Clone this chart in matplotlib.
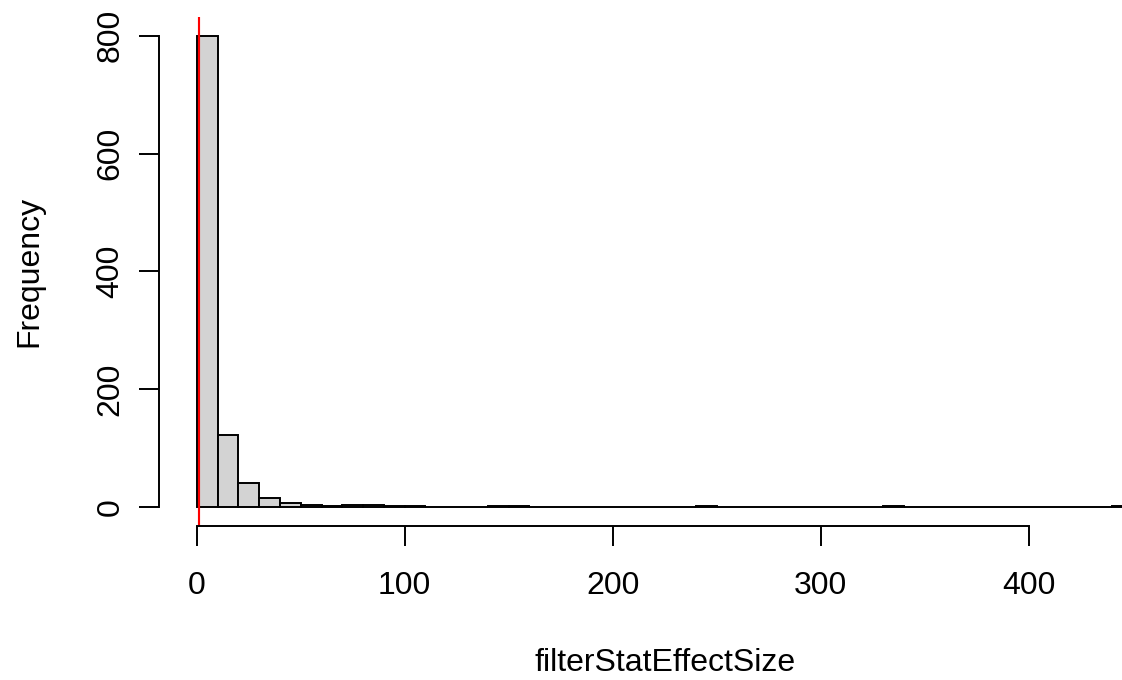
import matplotlib
matplotlib.use("Agg")
import matplotlib.pyplot as plt
import numpy as np

# histogram of filterStatEffectSize, bins of width 10 (counts)
bin_edges = np.arange(0, 460, 10)
counts = [800, 122, 41, 15, 7, 4, 1, 3, 3, 1,
          1, 0, 0, 0, 1, 1, 0, 0, 0, 0,
          0, 0, 0, 0, 1, 0, 0, 0, 0, 0,
          0, 0, 0, 1, 0, 0, 0, 0, 0, 0,
          0, 0, 0, 0, 1]
x_ticks = [0, 100, 200, 300, 400]
y_ticks = [0, 200, 400, 600, 800]
threshold = 1

plt.rcParams["font.family"] = ["Liberation Sans", "DejaVu Sans"]
FS = 23
LW = 1.4

W, H = 1122, 680
fig = plt.figure(figsize=(W / 100, H / 100), dpi=100)
# plot region in pixels (R style, runs past the right edge of the picture)
left, right, top, bottom = 159.3, 1170.0, 17.0, 525.7
ax = fig.add_axes([left / W, (H - bottom) / H, (right - left) / W, (bottom - top) / H])

ax.bar(bin_edges[:-1], counts, width=10, align="edge",
       color="#d3d3d3", edgecolor="black", linewidth=LW)
ax.axvline(threshold, color="red", linewidth=LW * 1.1)

ax.set_xlim(-18, 468)
ax.set_ylim(-32, 832)

for s in ["top", "right"]:
    ax.spines[s].set_visible(False)
ax.spines["left"].set_bounds(0, 800)
ax.spines["bottom"].set_bounds(0, 400)
ax.spines["left"].set_linewidth(LW)
ax.spines["bottom"].set_linewidth(LW)

ax.set_xticks(x_ticks)
ax.set_yticks(y_ticks)
ax.set_yticklabels([str(v) for v in y_ticks], rotation=90, va="center")
ax.tick_params(axis="both", direction="out", length=14.4, width=LW, labelsize=FS)
ax.tick_params(axis="x", pad=18)
ax.tick_params(axis="y", pad=10)

fig.text((left + right) / 2 / W, (H - 670.7) / H, "filterStatEffectSize",
         ha="center", va="baseline", fontsize=FS)
fig.text(29 / W, (H - (top + bottom) / 2) / H, "Frequency",
         ha="center", va="center", rotation=90, fontsize=FS)

fig.savefig("out.png", dpi=100)
